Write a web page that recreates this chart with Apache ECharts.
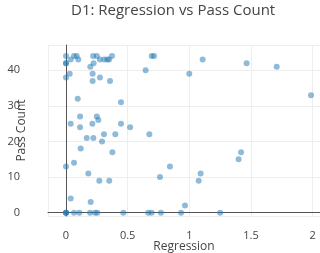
<!DOCTYPE html>
<html>
<head>
<meta charset="utf-8">
<script src="https://cdn.jsdelivr.net/npm/echarts@6/dist/echarts.min.js"></script>
<style>html,body{margin:0;padding:0;background:#fff}#c{width:320px;height:253px}</style>
</head>
<body>
<div id="c"></div>
<script>
const titleText = "D1: Regression vs Pass Count";
const xName = "Regression";
const yName = "Pass Count";
const regression = [
  0, 0.065, 0.087, 0.22, 0.25, 0.373, 0.695, 0.714,
  0.038, 0.1, 0.275, 0.31, 0.335, 0.35, 1.108,
  0, 0, 0.224, 1.465,
  0.197, 1.709,
  0.646,
  0.03, 0.216, 1.0,
  0, 0.275,
  0.216, 0.357,
  1.987,
  0.095,
  0.446,
  0.114, 0.25,
  0.262,
  0.038, 0.214, 0.446,
  0.114, 0.52,
  0.308, 0.4, 0.676,
  0.168, 0.222,
  0.292,
  0.119,
  0.376, 1.42,
  1.4,
  0.065,
  0, 0.843,
  0.181, 1.092,
  0.762,
  0.27, 0.351, 1.076,
  0.038,
  0.2,
  0.965,
  0, 0, 0, 0.065, 0.108, 0.195, 0.235, 0.254, 0.465, 0.667, 0.694, 0.77, 0.933, 1.25
];
const passCount = [
  44, 44, 44, 44, 44, 44, 44, 44,
  43, 43, 43, 43, 43, 43, 43,
  42, 42, 42, 42,
  41, 41,
  40,
  39, 39, 39,
  38, 38,
  37, 37,
  33,
  32,
  31,
  27, 27,
  26,
  25, 25, 25,
  24, 24,
  22, 22, 22,
  21, 21,
  20,
  18,
  17, 17,
  15,
  14,
  13, 13,
  11, 11,
  10,
  9, 9, 9,
  4,
  3,
  2,
  0, 0, 0, 0, 0, 0, 0, 0, 0, 0, 0, 0, 0, 0
];
const points = regression.map((x, i) => [x, passCount[i]]);
const font = "'Open Sans', sans-serif";
const chart = echarts.init(document.getElementById('c'));
chart.setOption({
  animation: false,
  backgroundColor: '#fff',
  title: {
    text: titleText, left: 71, top: 3, padding: 0,
    textStyle: { fontFamily: font, fontSize: 15, fontWeight: 'normal', color: '#444' }
  },
  grid: { left: 48, right: 0, top: 45, bottom: 37, containLabel: false, outerBoundsMode: 'none' },
  xAxis: {
    type: 'value', min: -0.146, max: 2.06,
    name: xName, nameLocation: 'middle', nameGap: 25, nameMoveOverlap: false,
    nameTextStyle: { fontFamily: font, fontSize: 12, color: '#444' },
    axisLine: { onZero: true, lineStyle: { color: '#555', width: 1 } },
    axisTick: { show: false },
    axisLabel: { showMinLabel: false, showMaxLabel: false, margin: 14, fontFamily: font, fontSize: 11, color: '#444' },
    splitLine: { show: true, lineStyle: { color: '#eee', width: 1 } }
  },
  yAxis: {
    type: 'value', min: -0.93, max: 47.1,
    name: yName, nameLocation: 'middle', nameGap: 20, nameRotate: 90, nameMoveOverlap: false,
    nameTextStyle: { fontFamily: font, fontSize: 12, color: '#444' },
    axisLine: { show: true, onZero: true, lineStyle: { color: '#555', width: 1 } },
    axisTick: { show: false },
    axisLabel: { showMinLabel: false, showMaxLabel: false, margin: 28, fontFamily: font, fontSize: 11, color: '#444' },
    splitLine: { show: true, lineStyle: { color: '#eee', width: 1 } }
  },
  series: [{
    type: 'scatter',
    data: points,
    symbolSize: 6,
    itemStyle: { color: '#1f77b4', opacity: 0.5 }
  }]
});
</script>
</body>
</html>
